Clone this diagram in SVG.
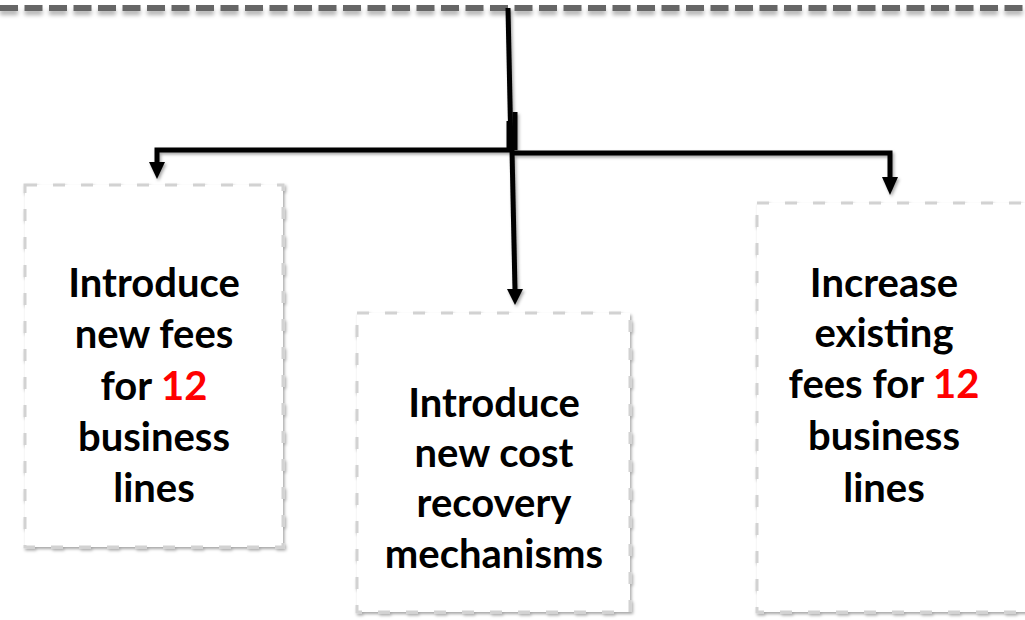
<svg xmlns="http://www.w3.org/2000/svg" width="1025" height="620" viewBox="0 0 1025 620">
<defs>
<filter id="sh" filterUnits="userSpaceOnUse" x="0" y="0" width="1025" height="620">
<feDropShadow dx="1.5" dy="2" stdDeviation="1.5" flood-color="#000" flood-opacity="0.35"/>
</filter>
<filter id="shTop" filterUnits="userSpaceOnUse" x="0" y="0" width="1025" height="30">
<feDropShadow dx="0" dy="4" stdDeviation="2" flood-color="#000" flood-opacity="0.3"/>
</filter>
</defs>
<style>
.box{fill:#fff;stroke:#d2d2d2;stroke-width:3;stroke-dasharray:12 16;}
.conn{fill:none;stroke:#000;stroke-width:5;}
.lbl{font-family:Lato,"Open Sans",sans-serif;font-weight:bold;font-size:40px;fill:#000;text-anchor:middle;}
.red{fill:#ff0000;}
</style>
<rect width="1025" height="620" fill="#fff"/>
<g id="top-bar" filter="url(#shTop)">
<line x1="0" y1="8" x2="1025" y2="8" stroke="#666" stroke-width="6" stroke-dasharray="18 6.5"/>
</g>
<g id="connectors" filter="url(#sh)">
<line class="conn" x1="508" y1="8" x2="511" y2="150" stroke-width="4"/>
<line class="conn" x1="509" y1="121" x2="509" y2="150" stroke-width="7"/>
<line class="conn" x1="515" y1="112" x2="515" y2="150" stroke-width="5"/>
<polyline class="conn" points="513,150 157,150 157,163"/>
<path d="M149,162 L165,162 L157,179 Z" fill="#000"/>
<polyline class="conn" points="513,153 890,153 890,178"/>
<path d="M882,177 L898,177 L890,195 Z" fill="#000"/>
<line class="conn" x1="512" y1="150" x2="515" y2="290" stroke-width="4"/>
<path d="M507,289 L523,289 L515,305 Z" fill="#000"/>
</g>
<g id="node-left">
<rect class="box" x="25" y="185" width="258" height="362" filter="url(#sh)"/>
<text class="lbl" x="154" y="297">Introduce</text>
<text class="lbl" x="154" y="348">new fees</text>
<text class="lbl" x="154" y="400">for <tspan class="red">12</tspan></text>
<text class="lbl" x="154" y="451">business</text>
<text class="lbl" x="154" y="502">lines</text>
</g>
<g id="node-middle">
<rect class="box" x="357" y="313" width="273" height="299" filter="url(#sh)"/>
<text class="lbl" x="494" y="417">Introduce</text>
<text class="lbl" x="494" y="467">new cost</text>
<text class="lbl" x="494" y="517">recovery</text>
<text class="lbl" x="494" y="568">mechanisms</text>
</g>
<g id="node-right">
<rect class="box" x="757" y="203" width="275" height="409" filter="url(#sh)"/>
<text class="lbl" x="884" y="297">Increase</text>
<text class="lbl" x="884" y="347">existing</text>
<text class="lbl" x="884" y="398">fees for <tspan class="red">12</tspan></text>
<text class="lbl" x="884" y="450">business</text>
<text class="lbl" x="884" y="502">lines</text>
</g>
</svg>
